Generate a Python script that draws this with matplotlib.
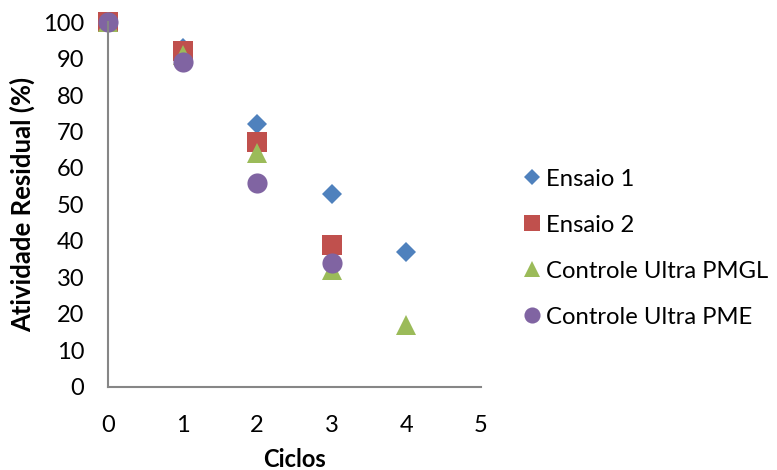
import matplotlib
matplotlib.use("Agg")
import matplotlib.pyplot as plt

plt.rcParams['font.family'] = ['Lato', 'DejaVu Sans']

ciclos_e1 = [0, 1, 2, 3, 4]
ensaio1 = [100, 93, 72, 53, 37]
ciclos_e2 = [0, 1, 2, 3]
ensaio2 = [100, 92, 67, 39]
ciclos_pmgl = [0, 1, 2, 3, 4]
pmgl = [100, 91, 64, 32, 17]
ciclos_pme = [0, 1, 2, 3]
pme = [100, 89, 56, 34]

labels = ["Ensaio 1", "Ensaio 2", "Controle Ultra PMGL", "Controle Ultra PME"]
colors = ["#4F81BD", "#C0504D", "#9BBB59", "#8064A2"]

fig = plt.figure(figsize=(7.77, 4.70), dpi=100)
ax = fig.add_axes([0.139, 0.177, 0.480, 0.776])

ax.plot(ciclos_e1, ensaio1, 'D', ms=10.5, color=colors[0], label=labels[0], clip_on=False, mew=0)
ax.plot(ciclos_e2, ensaio2, 's', ms=14, color=colors[1], label=labels[1], clip_on=False, mew=0)
ax.plot(ciclos_pmgl, pmgl, '^', ms=15, color=colors[2], label=labels[2], clip_on=False, mew=0)
ax.plot(ciclos_pme, pme, 'o', ms=14.5, color=colors[3], label=labels[3], clip_on=False, mew=0)

ax.set_xlim(0, 5)
ax.set_ylim(0, 100)
ax.set_xticks(range(0, 6))
ax.set_yticks(range(0, 101, 10))
ax.tick_params(length=0, labelsize=17)
ax.tick_params(axis='y', pad=17)
ax.tick_params(axis='x', pad=20)
for s in ['top', 'right']:
    ax.spines[s].set_visible(False)
for s in ['left', 'bottom']:
    ax.spines[s].set_color('#868686')
    ax.spines[s].set_linewidth(1.5)

ax.set_xlabel("Ciclos", fontsize=17, fontweight='bold', labelpad=9)
ax.set_ylabel("Atividade Residual (%)", fontsize=18.5, fontweight='bold', labelpad=6)

ax.legend(loc='center left', bbox_to_anchor=(1.04, 0.38), frameon=False,
          fontsize=17.2, handletextpad=0.0, labelspacing=1.05, handlelength=1.2,
          markerscale=0.8)

fig.savefig("out.png", dpi=100)
